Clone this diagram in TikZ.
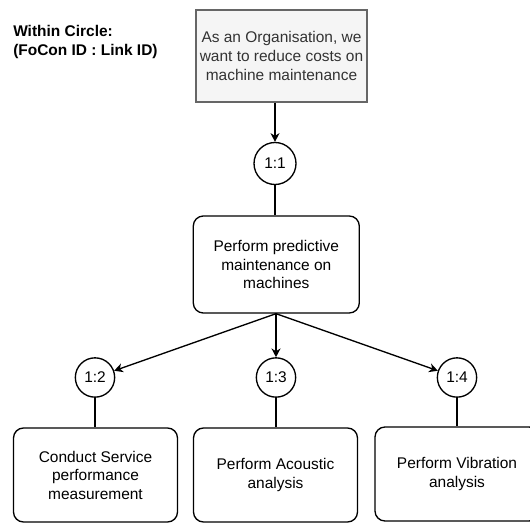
\documentclass[tikz,border=0pt]{standalone}
\usepackage{fontspec}
\setmainfont{Liberation Sans}
\usetikzlibrary{arrows.meta}

\newcommand{\boxfont}{\fontsize{11.6}{13.9}\selectfont}

\begin{document}
\begin{tikzpicture}[x=0.75pt,y=0.75pt,yscale=-1,xscale=1,
  goalbox/.style={draw={rgb, 255:red, 102; green, 102; blue, 102 }, fill={rgb, 255:red, 245; green, 245; blue, 245 }, text={rgb, 255:red, 51; green, 51; blue, 51 }, line width=1pt, minimum width=128.25pt, minimum height=69pt, inner sep=0pt, align=center, font=\boxfont},
  taskbox/.style={draw, rounded corners=7.5pt, line width=1pt, minimum width=123pt, minimum height=70.5pt, inner sep=0pt, align=center, font=\boxfont},
  idcircle/.style={draw, circle, line width=1pt, minimum size=29.5pt, inner sep=0pt, font=\boxfont},
  link/.style={line width=1pt, -{Stealth[length=6.5pt,width=6.75pt,inset=2pt]}}]
  \useasboundingbox (0,0) rectangle (530,523);

  % Text Node
  \node (legend) [anchor=west, inner sep=0pt, align=left, font=\fontsize{11.6}{14.25}\selectfont\bfseries] at (13,42.5) {Within Circle:\\(FoCon ID : Link ID)};

  % Boxes
  \node (goal) [goalbox] at (281.5,56) {As an Organisation, we\\want to reduce costs on\\machine maintenance};
  \node (main) [taskbox, minimum width=124.5pt, minimum height=72.75pt] at (276.3,264.5) {Perform predictive\\maintenance on\\machines};
  \node (service) [taskbox] at (95.5,475) {Conduct Service\\performance\\measurement};
  \node (acoustic) [taskbox] at (275.5,475) {Perform Acoustic\\analysis};
  \node (vibration) [taskbox] at (457,474) {Perform Vibration\\analysis};

  % Link circles
  \node (c11) [idcircle, minimum size=31.5pt] at (275,163.5) {1:1};
  \node (c12) [idcircle] at (95,377.5) {1:2};
  \node (c13) [idcircle] at (276,377.5) {1:3};
  \node (c14) [idcircle] at (457,377.5) {1:4};

  %Straight Lines
  \draw [link] (goal.south -| c11) -- (c11);
  \draw [line width=1pt] (c11.south) -- (main.north -| c11);
  \draw [link] (main.south -| c13) -- (c12);
  \draw [link] (main.south -| c13) -- (c13);
  \draw [link] (main.south -| c13) -- (c14);
  \draw [line width=1pt] (c12.south) -- (service.north -| c12);
  \draw [line width=1pt] (c13.south) -- (acoustic.north -| c13);
  \draw [line width=1pt] (c14.south) -- (vibration.north -| c14);

\end{tikzpicture}
\end{document}
